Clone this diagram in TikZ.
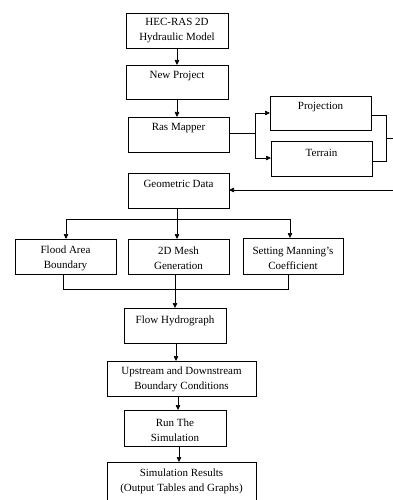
\documentclass[tikz,border=0pt]{standalone}
\usepackage{fontspec}
\setmainfont{Liberation Serif}
\usetikzlibrary{arrows.meta}
\begin{document}
\begin{tikzpicture}[x=1pt,y=-1pt,
  box/.style={draw=black,line width=0.7pt,fill=white,inner sep=0pt},
  lbl/.style={font=\fontsize{11}{15}\selectfont,align=center,inner sep=0pt},
  conn/.style={draw=black,line width=0.7pt},
  arr/.style={conn,-{Triangle[length=5pt,width=4.5pt]}}]
\clip (0,0) rectangle (393,500);
\fill[white] (0,0) rectangle (393,500);
% boxes
\draw[box] (126,13) rectangle (228,48);
\node[lbl] (hec) at (177,30.5) {HEC-RAS 2D\\Hydraulic Model};
\coordinate (hecB) at (177,48);
\draw[box] (126,65) rectangle (228,99);
\node[lbl] (np) at (177,76) {New Project};
\coordinate (npT) at (177,65);
\coordinate (npB) at (177,99);
\draw[box] (128,117) rectangle (229,152);
\node[lbl] (rm) at (178.5,128) {Ras Mapper};
\coordinate (rmT) at (177,117);
\coordinate (rmR) at (229,133);
\draw[box] (270,96) rectangle (371,130);
\node[lbl] (pj) at (320.5,107) {Projection};
\coordinate (pjL) at (270,113);
\coordinate (pjR) at (371,115);
\draw[box] (271,141) rectangle (372,176);
\node[lbl] (tr) at (321.5,153) {Terrain};
\coordinate (trL) at (271,158);
\coordinate (trR) at (372,161);
\draw[box] (128,173) rectangle (229,208);
\node[lbl] (gd) at (178.5,184) {Geometric Data};
\coordinate (gdR) at (229,190);
\coordinate (gdB) at (177,208);
\draw[box] (15,239) rectangle (116,274);
\node[lbl] (fa) at (65.5,258) {Flood Area\\Boundary};
\draw[box] (128,239) rectangle (229,274);
\node[lbl] (mg) at (178.5,258) {2D Mesh\\Generation};
\draw[box] (243,238) rectangle (343,274);
\node[lbl] (sm) at (293,258) {Setting Manning's\\Coefficient};
\coordinate (faT) at (66,239);
\coordinate (mgT) at (177,239);
\coordinate (smT) at (290,238);
\coordinate (faB) at (63,274);
\coordinate (mgB) at (175,274);
\coordinate (smB) at (288,274);
\draw[box] (124,308) rectangle (226,343);
\node[lbl] (fh) at (175,321) {Flow Hydrograph};
\coordinate (fhT) at (175,308);
\coordinate (fhB) at (176,343);
\draw[box] (107,361) rectangle (256,396);
\node[lbl] (ub) at (181.5,379.5) {Upstream and Downstream\\Boundary Conditions};
\coordinate (ubT) at (176,361);
\coordinate (ubB) at (178,396);
\draw[box] (124,410) rectangle (226,446);
\node[lbl] (rs) at (175,430) {Run The\\Simulation};
\coordinate (rsT) at (178,410);
\coordinate (rsB) at (179,446);
\draw[box] (107,462) rectangle (256,506);
\node[lbl] (sr) at (181.5,481) {Simulation Results\\(Output Tables and Graphs)};
\coordinate (srT) at (179,462);
% connectors
\draw[arr] (hecB) -- (npT);
\draw[arr] (npB) -- (rmT);
\draw[conn] (rmR) -- (255,133);
\draw[arr] (255,133) |- (pjL);
\draw[arr] (255,133) |- (trL);
\draw[conn] (pjR) -- (386,115) -- (386,161) -- (trR);
\draw[conn] (386,138) -- (400,138);
\draw[arr] (400,190) -- (gdR);
\draw[conn] (gdB) -- (177,219);
\draw[conn] (66,219) -- (290,219);
\draw[arr] (66,219) -- (faT);
\draw[arr] (177,219) -- (mgT);
\draw[arr] (290,219) -- (smT);
\draw[conn] (faB) -- (63,289) -- (288,289) -- (smB);
\draw[arr] (mgB) -- (fhT);
\draw[arr] (fhB) -- (ubT);
\draw[arr] (ubB) -- (rsT);
\draw[arr] (rsB) -- (srT);
\end{tikzpicture}
\end{document}
